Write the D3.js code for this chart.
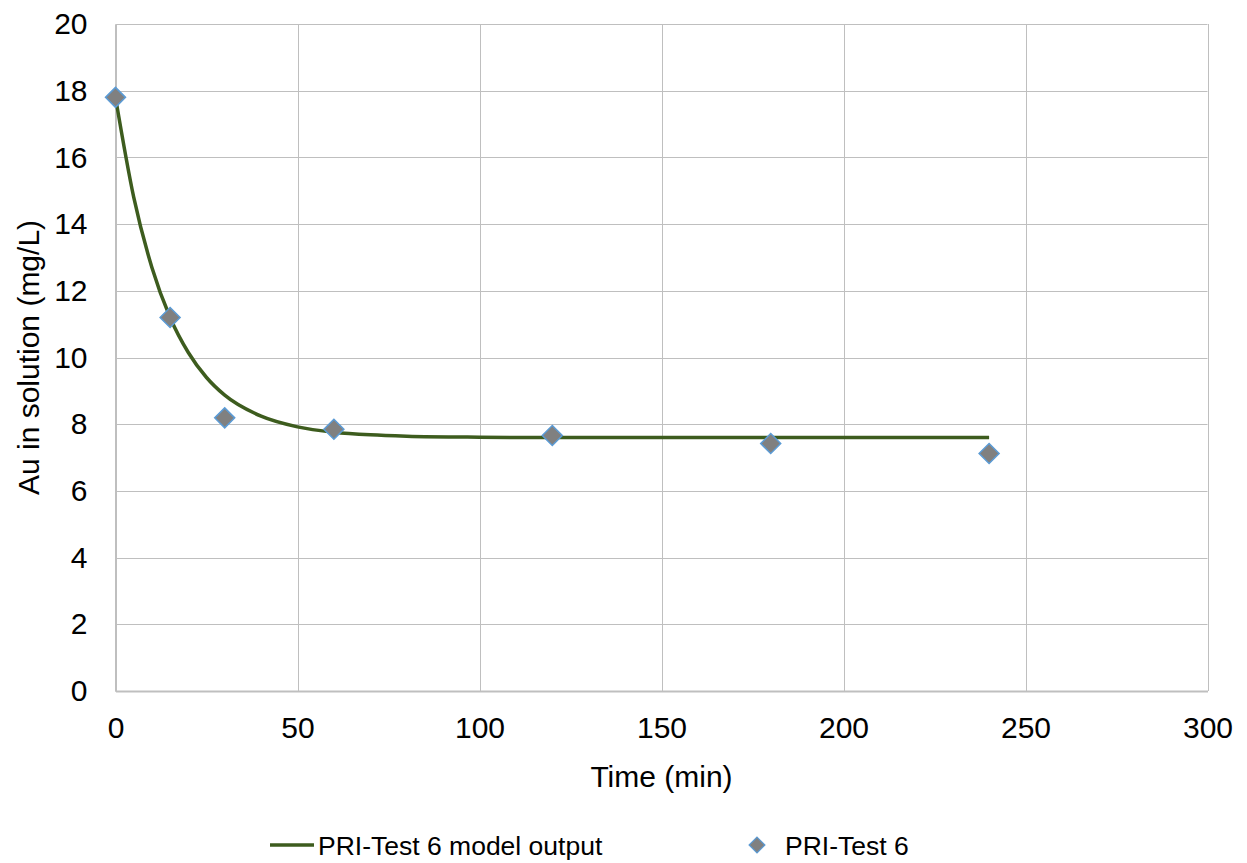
<!DOCTYPE html>
<html>
<head>
<meta charset="utf-8">
<script src="https://cdn.jsdelivr.net/npm/d3@7"></script>
<style>
  html, body { margin: 0; padding: 0; background: #fff; }
  svg text { font-family: "Liberation Sans", Arial, sans-serif; fill: #000; }
</style>
</head>
<body>
<svg id="chart" width="1247" height="863"></svg>
<script>
// Measured Au concentration over time
const obsTime = [0, 15, 30, 60, 120, 180, 240];
const obsAu = [17.8, 11.2, 8.19, 7.85, 7.66, 7.42, 7.12];

// Model output curve samples
const modelTime = [0, 5, 10, 15, 20, 25, 30, 40, 50, 60, 70, 80, 100, 120, 180, 240];
const modelAu = [17.8, 14.81, 12.70, 11.20, 10.15, 9.40, 8.87, 8.24, 7.92, 7.76, 7.68, 7.64, 7.61, 7.60, 7.60, 7.60];

const xTicks = [0, 50, 100, 150, 200, 250, 300];
const yTicks = [0, 2, 4, 6, 8, 10, 12, 14, 16, 18, 20];

const seriesNames = ["PRI-Test 6 model output", "PRI-Test 6"];

const svg = d3.select("#chart");
const plot = { left: 115.5, right: 1207.5, top: 24, bottom: 691 };

const x = d3.scaleLinear().domain([0, 300]).range([plot.left, plot.right]);
const y = d3.scaleLinear().domain([0, 20]).range([plot.bottom, plot.top]);

const gridColor = "#bfbfbf";
const lineColor = "#3d5c1e";
const markerFill = "#808080";
const markerStroke = "#5b9bd5";
const fontSize = "30px";

// Gridlines
const grid = svg.append("g");
grid.selectAll("line.h").data(yTicks).join("line")
  .attr("x1", plot.left).attr("x2", plot.right)
  .attr("y1", d => Math.round(y(d)) + 0.5).attr("y2", d => Math.round(y(d)) + 0.5)
  .attr("stroke", gridColor).attr("stroke-width", 1);
grid.selectAll("line.v").data(xTicks).join("line")
  .attr("y1", plot.top).attr("y2", plot.bottom)
  .attr("x1", d => Math.round(x(d)) + 0.5).attr("x2", d => Math.round(x(d)) + 0.5)
  .attr("stroke", gridColor).attr("stroke-width", 1);

// Axes (labels only; domain lines form the frame)
const xAxis = svg.append("g")
  .attr("transform", `translate(0,${plot.bottom})`)
  .call(d3.axisBottom(x).tickValues(xTicks).tickSize(0).tickPadding(26));
xAxis.select(".domain").attr("stroke", gridColor).attr("stroke-width", 2);
xAxis.selectAll("text").style("font-size", fontSize).attr("dy", "0.71em");

const yAxis = svg.append("g")
  .attr("transform", `translate(${plot.left},0)`)
  .call(d3.axisLeft(y).tickValues(yTicks).tickSize(0).tickPadding(28));
yAxis.select(".domain").attr("stroke", gridColor).attr("stroke-width", 2);
yAxis.selectAll("text").style("font-size", fontSize);

// Axis titles
svg.append("text")
  .attr("x", (plot.left + plot.right) / 2).attr("y", 787)
  .attr("text-anchor", "middle").style("font-size", fontSize)
  .text("Time (min)");
svg.append("text")
  .attr("transform", `translate(39,${(plot.top + plot.bottom) / 2}) rotate(-90)`)
  .attr("text-anchor", "middle").style("font-size", fontSize)
  .text("Au in solution (mg/L)");

// Model line
const line = d3.line().x((d, i) => x(modelTime[i])).y(d => y(d)).curve(d3.curveMonotoneX);
svg.append("path")
  .datum(modelAu)
  .attr("d", line)
  .attr("fill", "none")
  .attr("stroke", lineColor)
  .attr("stroke-width", 3.5);

// Observed markers
const diamond = d3.symbol().type(d3.symbolDiamond2).size(255);
svg.append("g").selectAll("path").data(obsAu).join("path")
  .attr("d", diamond)
  .attr("transform", (d, i) => `translate(${x(obsTime[i])},${y(d)})`)
  .attr("fill", markerFill)
  .attr("stroke", markerStroke)
  .attr("stroke-width", 1.5);

// Legend
const legY = 845;
svg.append("line")
  .attr("x1", 270).attr("x2", 314).attr("y1", legY).attr("y2", legY)
  .attr("stroke", lineColor).attr("stroke-width", 3.5);
svg.append("text")
  .attr("x", 318).attr("y", legY).attr("dy", "0.36em")
  .style("font-size", "26.5px").text(seriesNames[0]);
svg.append("path")
  .attr("d", d3.symbol().type(d3.symbolDiamond2).size(160))
  .attr("transform", `translate(757,${legY})`)
  .attr("fill", markerFill).attr("stroke", markerStroke).attr("stroke-width", 1.2);
svg.append("text")
  .attr("x", 785).attr("y", legY).attr("dy", "0.36em")
  .style("font-size", "26.5px").text(seriesNames[1]);
</script>
</body>
</html>
